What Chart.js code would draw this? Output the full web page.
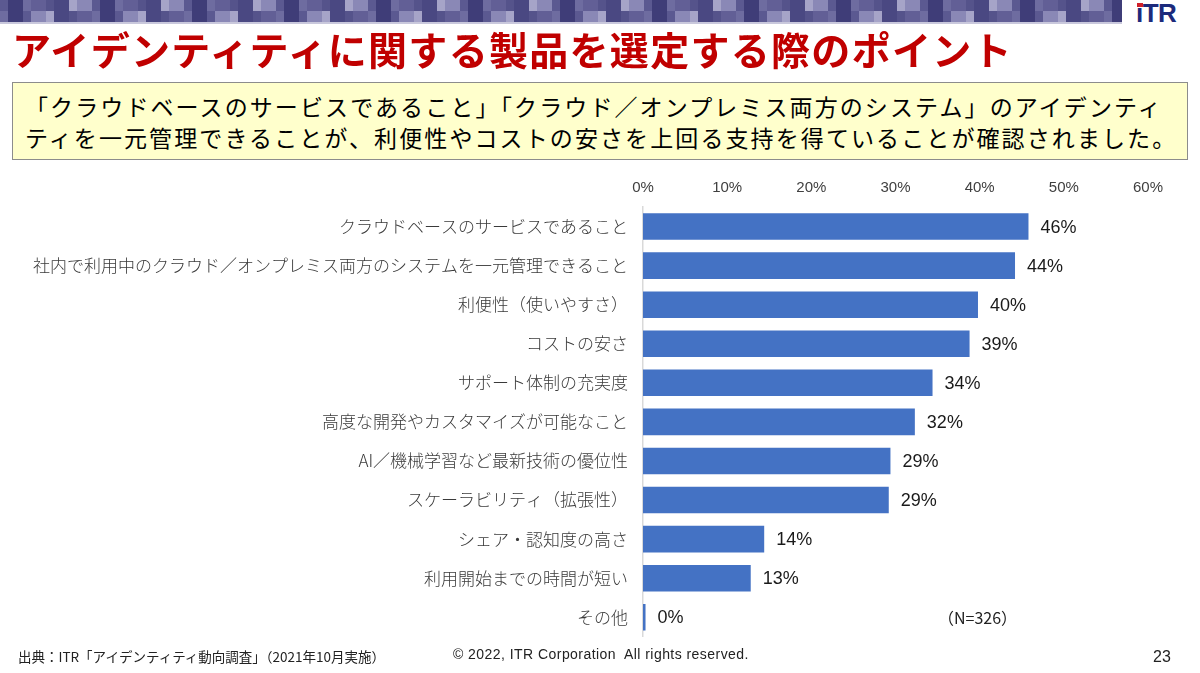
<!DOCTYPE html>
<html lang="ja">
<head>
<meta charset="utf-8">
<title>アイデンティティに関する製品を選定する際のポイント</title>
<script src="https://cdn.jsdelivr.net/npm/chart.js@4.4.1/dist/chart.umd.min.js"></script>
<style>
  html, body { margin: 0; padding: 0; background: #fff; }
  body { width: 1200px; height: 673px; position: relative; overflow: hidden;
         font-family: "Noto Sans CJK JP", "Noto Sans", sans-serif; color: #000; }
  #banner { position: absolute; left: 0; top: 0; width: 1122px; height: 24px; }
  #logo { position: absolute; left: 1136px; top: 0; font: bold 26px/26px "Liberation Sans", Arial, sans-serif;
          color: #1c2a7c; letter-spacing: -0.5px; }
  #logo .dot { position: absolute; left: 1px; top: 3px; width: 6px; height: 4px; background: #d0202a; }
  #title { position: absolute; left: 12px; top: 20px; font-size: 39px; font-weight: bold;
           color: #c00000; white-space: nowrap; letter-spacing: 1.3px; }
  #note { position: absolute; left: 12px; top: 82px; width: 1174px; height: 76px;
          background: #ffffcc; border: 1px solid #8c8c8c; }
  #note div { position: absolute; left: 12px; font-size: 23px; letter-spacing: 2.1px; white-space: nowrap; line-height: 31px; }
  #chartBox { position: absolute; left: 0; top: 175px; width: 1200px; height: 487px; }
  #n { position: absolute; left: 938px; top: 605px; font-size: 16px; color: #222; }
  .foot { position: absolute; top: 646px; font-size: 13.5px; color: #222; white-space: nowrap; }
</style>
</head>
<body>
<canvas id="banner" width="1122" height="24"></canvas>
<div id="logo">ıTR<span class="dot"></span></div>
<div id="title">アイデンティティに関する製品を選定する際のポイント</div>
<div id="note">
  <div style="top:8px">「クラウドベースのサービスであること」「クラウド／オンプレミス両方のシステム」のアイデンティ</div>
  <div style="top:39px">ティを一元管理できることが、利便性やコストの安さを上回る支持を得ていることが確認されました。</div>
</div>
<div id="chartBox"><canvas id="chart"></canvas></div>
<div id="n">（N=326）</div>
<div class="foot" style="left:18px">出典：ITR「アイデンティティ動向調査」（2021年10月実施）</div>
<div class="foot" style="left:453px;font-family:'Liberation Sans',Arial,sans-serif;font-size:14px;letter-spacing:0.45px">© 2022, ITR Corporation&nbsp; All rights reserved.</div>
<div class="foot" style="left:1153px;font-family:'Liberation Sans',Arial,sans-serif;font-size:16px;top:648px">23</div>

<script>
// chart data
var categories = [
    "クラウドベースのサービスであること",
    "社内で利用中のクラウド／オンプレミス両方のシステムを一元管理できること",
    "利便性（使いやすさ）",
    "コストの安さ",
    "サポート体制の充実度",
    "高度な開発やカスタマイズが可能なこと",
    "AI／機械学習など最新技術の優位性",
    "スケーラビリティ（拡張性）",
    "シェア・認知度の高さ",
    "利用開始までの時間が短い",
    "その他"
];
var values = [45.8, 44.2, 39.8, 38.8, 34.4, 32.3, 29.4, 29.2, 14.4, 12.8, 0.3];
var tickValues = [0, 10, 20, 30, 40, 50, 60];

// Mosaic strip at the top of the slide (decoration only)
function drawBanner() {
    var c = document.getElementById("banner").getContext("2d");
    var shades = ["#5b5991", "#4a4882", "#6e6ca0", "#8a88b6", "#55538b", "#3f3d78", "#a6a4c8", "#625f96"];
    var x = 0, i = 0;
    while (x < 1122) {
        var w = 8 + (i * 7) % 14;
        c.fillStyle = shades[(i * 5) % shades.length];
        c.fillRect(x, 0, w, 11);
        c.fillStyle = shades[(i * 3 + 2) % shades.length];
        c.fillRect(x, 11, w, 11);
        x += w;
        i++;
    }
    c.fillStyle = "#c9c8dc";
    c.fillRect(0, 22, 1122, 2);
}
drawBanner();

// Value labels to the right of every bar
var valueLabelPlugin = {
    id: "valueLabels",
    afterDatasetsDraw: function(chart) {
        var ctx = chart.ctx;
        var meta = chart.getDatasetMeta(0);
        ctx.save();
        ctx.font = "18px 'Liberation Sans', Arial, sans-serif";
        ctx.fillStyle = "#1a1a1a";
        ctx.textAlign = "left";
        ctx.textBaseline = "middle";
        meta.data.forEach(function(bar, i) {
            ctx.fillText(Math.round(values[i]) + "%", bar.x + 12, bar.y + 1);
        });
        ctx.restore();
    }
};

var ctx = document.getElementById("chart").getContext("2d");
var chart = new Chart(ctx, {
    type: "bar",
    data: {
        labels: categories,
        datasets: [{
            data: values,
            backgroundColor: "#4472c4",
            borderWidth: 0,
            barPercentage: 0.68,
            categoryPercentage: 1
        }]
    },
    plugins: [valueLabelPlugin],
    options: {
        indexAxis: "y",
        responsive: true,
        maintainAspectRatio: false,
        animation: false,
        layout: { padding: { left: 0, right: 52, top: 0, bottom: 2 } },
        plugins: {
            legend: { display: false },
            tooltip: { enabled: false }
        },
        scales: {
            x: {
                position: "top",
                min: tickValues[0],
                max: tickValues[tickValues.length - 1],
                grid: { display: false, drawTicks: false },
                border: { display: false },
                ticks: {
                    stepSize: tickValues[1] - tickValues[0],
                    padding: 10,
                    color: "#404040",
                    font: { family: "'Liberation Sans', Arial, sans-serif", size: 15 },
                    callback: function(v) { return v + "%"; }
                },
                afterFit: function(scale) { scale.height = 32; }
            },
            y: {
                grid: { display: false, drawTicks: false },
                border: { display: true, color: "#d9d9d9", width: 1.5 },
                ticks: {
                    padding: 15,
                    color: "#3a3a3a",
                    font: { family: "'Noto Sans CJK JP', sans-serif", size: 17, weight: 300 }
                },
                afterFit: function(scale) { scale.width = 643; }
            }
        }
    }
});
</script>
</body>
</html>
